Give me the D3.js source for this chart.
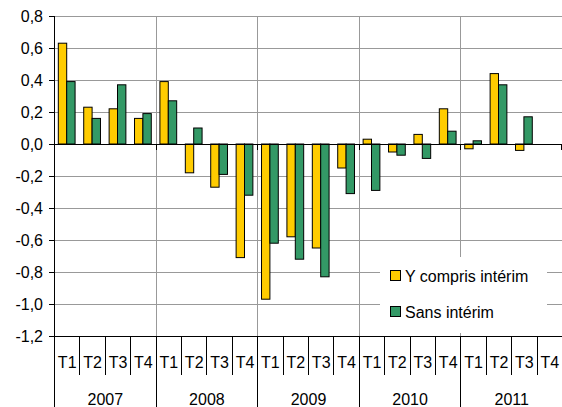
<!DOCTYPE html>
<html>
<head>
<meta charset="utf-8">
<script src="https://cdnjs.cloudflare.com/ajax/libs/d3/7.8.5/d3.min.js"></script>
<style>
    body { margin: 0; background: #fff; }
    text { font-family: "Liberation Sans", Arial, sans-serif; font-size: 16px; fill: #000; }
    .grid { stroke: #999; stroke-width: 1; shape-rendering: crispEdges; }
    .axisLine { stroke: #000; stroke-width: 1; shape-rendering: crispEdges; }
</style>
</head>
<body>
<script>
(function(){

//chart data
var years = ["2007", "2008", "2009", "2010", "2011"];
var quarters = ["T1", "T2", "T3", "T4"];
var avecInterim = [0.63, 0.23, 0.22, 0.16, 0.39, -0.18, -0.27, -0.71, -0.97, -0.58,
    -0.65, -0.15, 0.03, -0.05, 0.06, 0.22, -0.03, 0.44, -0.04, null]; //Y compris intérim
var sansInterim = [0.39, 0.16, 0.37, 0.19, 0.27, 0.10, -0.19, -0.32, -0.62, -0.72,
    -0.83, -0.31, -0.29, -0.07, -0.09, 0.08, 0.02, 0.37, 0.17, null]; //Sans intérim
var yTicks = [0.8, 0.6, 0.4, 0.2, 0, -0.2, -0.4, -0.6, -0.8, -1.0, -1.2];
var seriesNames = ["Y compris intérim", "Sans intérim"];
var seriesColors = ["#FFCC00", "#339966"];

window.onload = setChart();

function setChart(){
    //frame dimensions
    var width = 562,
        height = 407,
        left = 54,
        right = 562,
        top = 16,
        bottom = 336;

    var svg = d3.select("body")
        .append("svg")
        .attr("width", width)
        .attr("height", height);

    //list of all categories (year + quarter)
    var cats = [];
    years.forEach(function(y){
        quarters.forEach(function(q){
            cats.push({year: y, quarter: q});
        });
    });

    var x = d3.scaleBand()
        .domain(d3.range(cats.length))
        .range([left, right]);

    var y = d3.scaleLinear()
        .domain([-1.2, 0.8])
        .range([bottom, top]);

    //french number format
    var fr = d3.formatLocale({decimal: ",", thousands: " ", grouping: [3], currency: ["", " €"], minus: "-"});
    var fmt = fr.format(".1f");

    //horizontal gridlines
    svg.selectAll(".hgrid")
        .data(yTicks)
        .enter()
        .append("line")
        .attr("class", "grid")
        .attr("x1", left)
        .attr("x2", right)
        .attr("y1", function(d){ return Math.round(y(d)) + 0.5; })
        .attr("y2", function(d){ return Math.round(y(d)) + 0.5; });

    //vertical gridlines at year boundaries
    var yearStarts = d3.range(4, cats.length, 4);
    svg.selectAll(".vgrid")
        .data(yearStarts)
        .enter()
        .append("line")
        .attr("class", "grid")
        .attr("x1", function(d){ return Math.round(x(d)) + 0.5; })
        .attr("x2", function(d){ return Math.round(x(d)) + 0.5; })
        .attr("y1", top)
        .attr("y2", bottom);

    //legend background hides the grid behind it
    svg.append("rect")
        .attr("x", 380)
        .attr("y", 257)
        .attr("width", 167)
        .attr("height", 76)
        .attr("fill", "#fff");

    //bars
    var barW = x.bandwidth() * 0.33;
    var series = [avecInterim, sansInterim];
    series.forEach(function(vals, s){
        svg.selectAll(".bar" + s)
            .data(vals.map(function(v, i){ return {i: i, v: v}; }).filter(function(d){ return d.v !== null; }))
            .enter()
            .append("rect")
            .attr("class", "bar" + s)
            .attr("x", function(d){ return x(d.i) + x.bandwidth() / 2 - barW + s * barW; })
            .attr("width", barW)
            .attr("y", function(d){ return y(Math.max(0, d.v)); })
            .attr("height", function(d){ return Math.abs(y(d.v) - y(0)); })
            .attr("fill", seriesColors[s])
            .attr("stroke", "#000")
            .attr("stroke-width", 1);
    });

    //zero line with small ticks at year boundaries
    var y0 = Math.round(y(0)) + 0.5;
    svg.append("line")
        .attr("class", "axisLine")
        .attr("x1", left).attr("x2", right)
        .attr("y1", y0).attr("y2", y0);
    svg.selectAll(".zeroTick")
        .data(yearStarts.concat([cats.length]))
        .enter()
        .append("line")
        .attr("class", "axisLine")
        .attr("x1", function(d){ return Math.min(Math.round(x(d) || right), right - 1) + 0.5; })
        .attr("x2", function(d){ return Math.min(Math.round(x(d) || right), right - 1) + 0.5; })
        .attr("y1", y0)
        .attr("y2", y0 + 5);

    //y axis line and ticks
    svg.append("line")
        .attr("class", "axisLine")
        .attr("x1", left + 0.5).attr("x2", left + 0.5)
        .attr("y1", top).attr("y2", height);
    svg.selectAll(".yTick")
        .data(yTicks)
        .enter()
        .append("line")
        .attr("class", "axisLine")
        .attr("x1", left - 5).attr("x2", left)
        .attr("y1", function(d){ return Math.round(y(d)) + 0.5; })
        .attr("y2", function(d){ return Math.round(y(d)) + 0.5; });
    svg.selectAll(".yLabel")
        .data(yTicks)
        .enter()
        .append("text")
        .attr("text-anchor", "end")
        .attr("x", 43)
        .attr("y", function(d){ return y(d); })
        .attr("dy", "0.36em")
        .text(function(d){ return fmt(d); });

    //category axis: bottom line, separators, labels
    svg.append("line")
        .attr("class", "axisLine")
        .attr("x1", left).attr("x2", right)
        .attr("y1", Math.round(bottom) + 0.5).attr("y2", Math.round(bottom) + 0.5);
    svg.selectAll(".qSep")
        .data(d3.range(1, cats.length))
        .enter()
        .append("line")
        .attr("class", "axisLine")
        .attr("x1", function(d){ return Math.round(x(d)) + 0.5; })
        .attr("x2", function(d){ return Math.round(x(d)) + 0.5; })
        .attr("y1", bottom)
        .attr("y2", function(d){ return d % 4 === 0 ? height : 375; });
    svg.selectAll(".qLabel")
        .data(cats)
        .enter()
        .append("text")
        .attr("text-anchor", "middle")
        .attr("x", function(d, i){ return x(i) + x.bandwidth() / 2 + 0.5; })
        .attr("y", 368)
        .text(function(d){ return d.quarter; });
    svg.selectAll(".yearLabel")
        .data(years)
        .enter()
        .append("text")
        .attr("text-anchor", "middle")
        .attr("x", function(d, i){ return (x(i * 4) + x(i * 4 + 3) + x.bandwidth()) / 2 + 0.5; })
        .attr("y", 405)
        .text(function(d){ return d; });

    //legend
    var legend = svg.selectAll(".legend")
        .data(seriesNames)
        .enter()
        .append("g")
        .attr("transform", function(d, i){ return "translate(390," + (270 + i * 36) + ")"; });
    legend.append("rect")
        .attr("x", 0.5).attr("y", 0.5)
        .attr("width", 10).attr("height", 10)
        .attr("fill", function(d, i){ return seriesColors[i]; })
        .attr("stroke", "#000");
    legend.append("text")
        .attr("x", 15)
        .attr("y", 11.5)
        .text(function(d){ return d; });
};

})();
</script>
</body>
</html>
